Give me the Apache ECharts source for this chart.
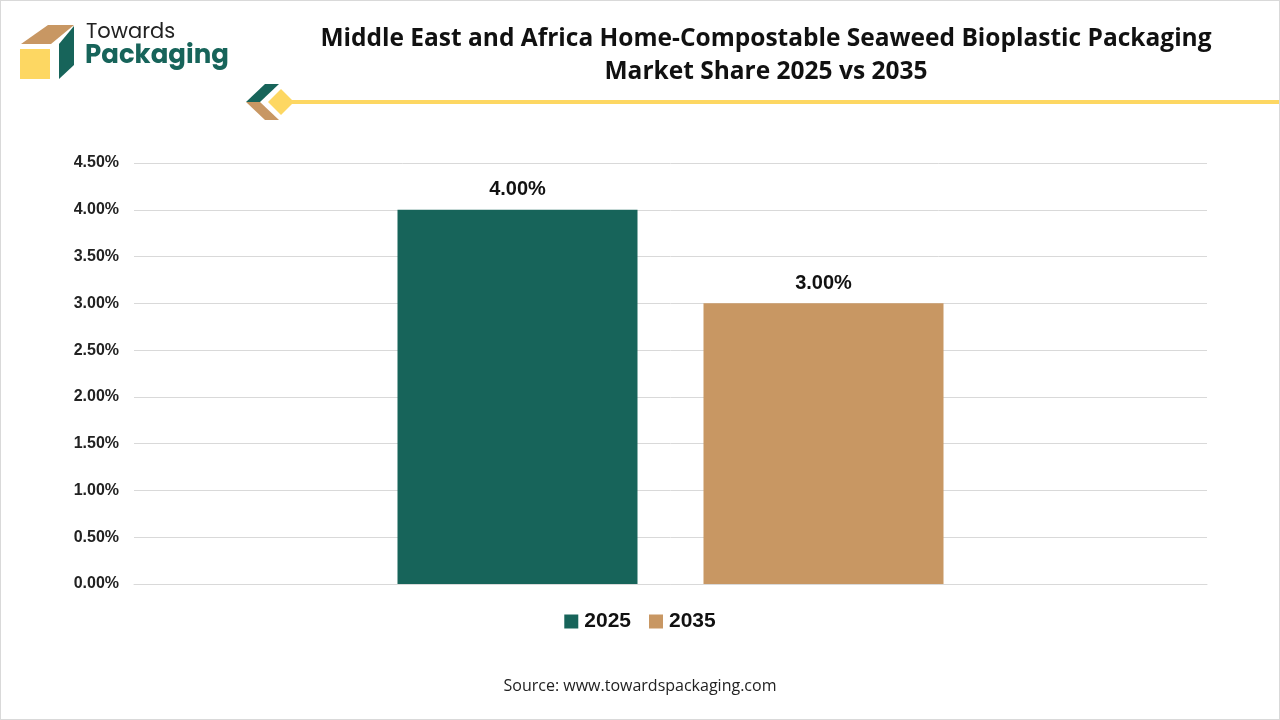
<!DOCTYPE html>
<html>
<head>
<meta charset="utf-8">
<style>
  html, body { margin: 0; padding: 0; background: #fff; }
  #chart { width: 1280px; height: 720px; box-sizing: border-box; border: 1px solid #d9d9d9; }
</style>
<script src="https://cdn.jsdelivr.net/npm/echarts@6/dist/echarts.min.js"></script>
</head>
<body>
<div id="chart"></div>
<script>
// 数据
const categories = ['Market Share']
const seriesNames = ['2025', '2035']
const seriesValues = [4.0, 3.0]
const seriesColors = ['#17645a', '#c89763']
const yTicks = { min: 0, max: 4.5, interval: 0.5 }

const chart = echarts.init(document.getElementById('chart'))

// 左上角 logo + 标题装饰
const graphics = [
  // box logo
  { type: 'polygon', shape: { points: [[20, 43], [47, 24], [73, 24], [50, 43]] }, style: { fill: '#c89763' } },
  { type: 'polygon', shape: { points: [[58, 43], [73, 25], [73, 64], [58, 78]] }, style: { fill: '#17645a' } },
  { type: 'rect', shape: { x: 19, y: 48, width: 30, height: 30 }, style: { fill: '#fdd762' } },
  { type: 'text', left: 85, top: 21, style: { text: 'Towards', font: '21px Poppins, "Noto Sans", sans-serif', fill: '#222' } },
  { type: 'text', left: 84, top: 42, style: { text: 'Packaging', font: 'bold 26px Poppins, "Noto Sans", sans-serif', fill: '#17645a' } },
  // title line ornament
  { type: 'polygon', shape: { points: [[245, 101], [264, 83], [278, 83], [259, 101]] }, style: { fill: '#17645a' } },
  { type: 'polygon', shape: { points: [[245, 101], [259, 101], [278, 119], [264, 119]] }, style: { fill: '#c89763' } },
  { type: 'polygon', shape: { points: [[280, 88], [293, 101], [280, 114], [267, 101]] }, style: { fill: '#fdd762' } },
  { type: 'rect', shape: { x: 290, y: 99, width: 990, height: 4 }, style: { fill: '#fdd762' } },
  // source
  { type: 'text', left: 'center', top: 677, style: { text: 'Source: www.towardspackaging.com', font: '16px "Open Sans", "Noto Sans", sans-serif', fill: '#222' } }
]

const option = {
  animation: false,
  title: {
    text: 'Middle East and Africa Home-Compostable Seaweed Bioplastic Packaging\nMarket Share 2025 vs 2035',
    left: 760,
    textAlign: 'center',
    top: 17,
    textStyle: {
      fontFamily: '"Open Sans", "Noto Sans", sans-serif',
      fontSize: 24.5,
      fontWeight: 'bold',
      color: '#111',
      lineHeight: 33
    }
  },
  legend: {
    bottom: 82,
    left: 'center',
    itemWidth: 14,
    itemHeight: 14,
    itemGap: 18,
    icon: 'rect',
    textStyle: {
      fontFamily: '"Liberation Sans", Arial, sans-serif',
      fontSize: 21,
      fontWeight: 'bold',
      color: '#111',
      padding: [0, 0, 0, 1]
    },
    data: seriesNames
  },
  grid: { left: 133, right: 72, top: 162, bottom: 135, containLabel: false },
  xAxis: {
    type: 'category',
    data: categories,
    axisLine: { show: true, lineStyle: { color: '#d9d9d9' } },
    axisTick: { show: false },
    axisLabel: { show: false }
  },
  yAxis: {
    type: 'value',
    min: yTicks.min,
    max: yTicks.max,
    interval: yTicks.interval,
    axisLine: { show: false },
    axisTick: { show: false },
    splitLine: { lineStyle: { color: '#d9d9d9' } },
    axisLabel: {
      formatter: (v) => v.toFixed(2) + '%',
      fontFamily: '"Liberation Sans", Arial, sans-serif',
      fontSize: 16,
      fontWeight: 'bold',
      color: '#222',
      margin: 15
    }
  },
  series: seriesNames.map((name, i) => ({
    name,
    type: 'bar',
    barWidth: 240,
    barGap: '27.5%',
    itemStyle: { color: seriesColors[i] },
    label: {
      show: true,
      position: 'top',
      distance: 10,
      formatter: (p) => p.value.toFixed(2) + '%',
      fontFamily: '"Liberation Sans", Arial, sans-serif',
      fontSize: 20,
      fontWeight: 'bold',
      color: '#111'
    },
    data: [seriesValues[i]]
  })),
  graphic: graphics
}

chart.setOption(option)
window.addEventListener('resize', () => chart.resize())
</script>
</body>
</html>
